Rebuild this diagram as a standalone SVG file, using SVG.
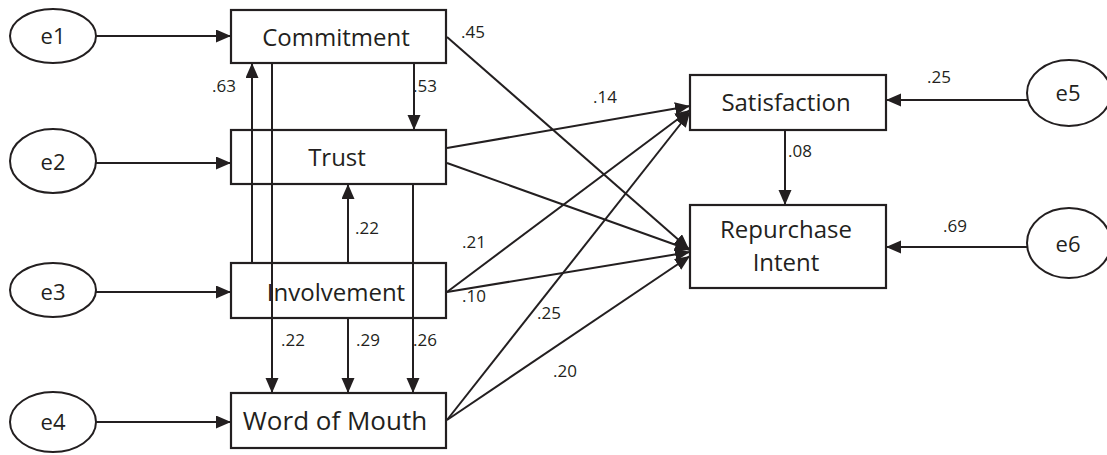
<svg xmlns="http://www.w3.org/2000/svg" width="1107" height="455" viewBox="0 0 1107 455">
<style>
.box{fill:none;stroke:#231f20;stroke-width:2.2}
.ell{fill:#fff;stroke:#231f20;stroke-width:2}
.lbl{font-family:"Open Sans","Noto Sans",sans-serif;font-size:24px;fill:#231f20;text-anchor:middle}
.el{font-family:"Open Sans","Noto Sans",sans-serif;font-size:22px;fill:#231f20;text-anchor:middle}
.num{font-family:"Open Sans","Noto Sans",sans-serif;font-size:17px;fill:#231f20}
.ln{stroke:#231f20;stroke-width:2;fill:none;marker-end:url(#ah)}
</style>
<defs>
<marker id="ah" markerUnits="userSpaceOnUse" markerWidth="16" markerHeight="14" refX="15" refY="6.5" orient="auto">
<path d="M0,0 L15,6.5 L0,13 Z" fill="#231f20"/>
</marker>
</defs>
<rect width="1107" height="455" fill="#fff"/>
<g id="connectors">
<line class="ln" x1="96" y1="36" x2="231" y2="36"/>
<line class="ln" x1="96" y1="163" x2="231" y2="163"/>
<line class="ln" x1="96" y1="292" x2="231" y2="292"/>
<line class="ln" x1="96" y1="422" x2="231" y2="422"/>
<line class="ln" x1="1027" y1="100" x2="886" y2="100"/>
<line class="ln" x1="1027" y1="247" x2="886" y2="247"/>
<line class="ln" x1="785" y1="130" x2="785" y2="205"/>
<line class="ln" x1="252" y1="263" x2="252" y2="63"/>
<line class="ln" x1="272" y1="63" x2="272" y2="393"/>
<line class="ln" x1="414" y1="63" x2="414" y2="130"/>
<line class="ln" x1="348" y1="263" x2="348" y2="184"/>
<line class="ln" x1="413" y1="184" x2="413" y2="393"/>
<line class="ln" x1="348" y1="318" x2="348" y2="393"/>
<line class="ln" x1="447" y1="37" x2="689" y2="249"/>
<line class="ln" x1="447" y1="148" x2="690" y2="106"/>
<line class="ln" x1="447" y1="163" x2="690" y2="250"/>
<line class="ln" x1="447" y1="292" x2="690" y2="110"/>
<line class="ln" x1="447" y1="292" x2="690" y2="252"/>
<line class="ln" x1="447" y1="420" x2="690" y2="112"/>
<line class="ln" x1="447" y1="420" x2="690" y2="256"/>
</g>
<g id="e1"><ellipse class="ell" cx="53" cy="36" rx="43" ry="27"/><text class="el" x="53" y="44">e1</text></g>
<g id="e2"><ellipse class="ell" cx="53" cy="161" rx="43" ry="32"/><text class="el" x="53" y="170">e2</text></g>
<g id="e3"><ellipse class="ell" cx="53" cy="290" rx="43" ry="27"/><text class="el" x="53" y="300">e3</text></g>
<g id="e4"><ellipse class="ell" cx="53" cy="422" rx="43" ry="30"/><text class="el" x="53" y="430">e4</text></g>
<g id="e5"><ellipse class="ell" cx="1069" cy="93" rx="42" ry="33"/><text class="el" x="1068" y="101">e5</text></g>
<g id="e6"><ellipse class="ell" cx="1069" cy="243" rx="42" ry="35"/><text class="el" x="1068" y="252">e6</text></g>
<g id="commitment"><rect class="box" x="231" y="10" width="215" height="53"/><text class="lbl" x="336" y="46">Commitment</text></g>
<g id="trust"><rect class="box" x="231" y="130" width="215" height="54"/><text class="lbl" x="337" y="166">Trust</text></g>
<g id="involvement"><rect class="box" x="231" y="263" width="215" height="55"/><text class="lbl" x="336" y="301">Involvement</text></g>
<g id="wom"><rect class="box" x="231" y="393" width="215" height="55"/><text class="lbl" x="335" y="430" style="font-size:26px">Word of Mouth</text></g>
<g id="satisfaction"><rect class="box" x="690" y="75" width="196" height="55"/><text class="lbl" x="786" y="111">Satisfaction</text></g>
<g id="repurchase"><rect class="box" x="690" y="205" width="196" height="83"/><text class="lbl" x="786" y="238">Repurchase</text><text class="lbl" x="786" y="271">Intent</text></g>
<g id="labels">
<text class="num" x="461" y="38">.45</text>
<text class="num" x="212" y="92">.63</text>
<text class="num" x="413" y="92">.53</text>
<text class="num" x="593" y="103">.14</text>
<text class="num" x="355" y="234">.22</text>
<text class="num" x="462" y="248">.21</text>
<text class="num" x="462" y="302">.10</text>
<text class="num" x="281" y="346">.22</text>
<text class="num" x="356" y="346">.29</text>
<text class="num" x="413" y="346">.26</text>
<text class="num" x="537" y="319">.25</text>
<text class="num" x="553" y="377">.20</text>
<text class="num" x="788" y="157">.08</text>
<text class="num" x="927" y="83">.25</text>
<text class="num" x="943" y="232">.69</text>
</g>
</svg>
